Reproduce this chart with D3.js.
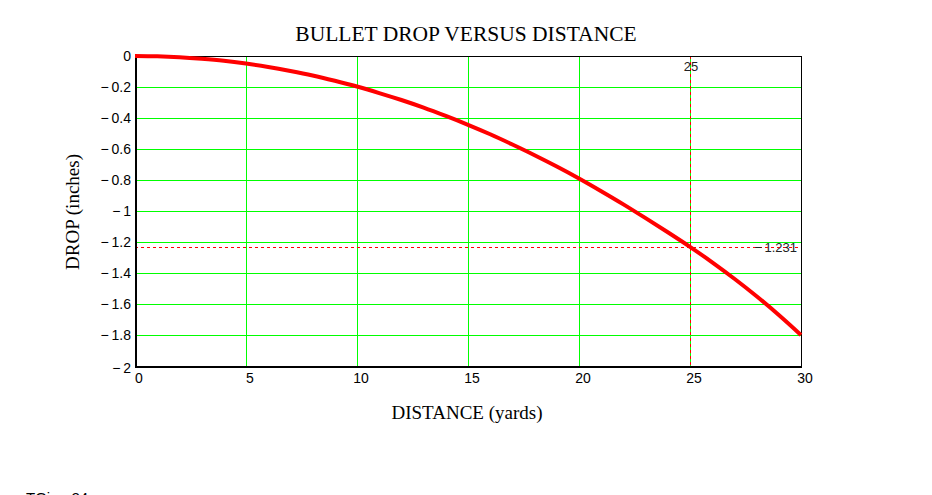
<!DOCTYPE html>
<html>
<head>
<meta charset="utf-8">
<script src="https://cdn.jsdelivr.net/npm/d3@7"></script>
<style>
  body { margin: 0; background: #fff; }
  svg { display: block; }
</style>
</head>
<body>
<svg width="932" height="495"></svg>
<script>
// distance in yards, drop in inches
const distance = [0, 1, 2, 3, 4, 5, 6, 7, 8, 9, 10, 11, 12, 13, 14, 15, 16, 17, 18, 19, 20,
    21, 22, 23, 24, 25, 26, 27, 28, 29, 30];
const drop = [0, -0.002, -0.008, -0.018, -0.031, -0.049, -0.071, -0.097, -0.126, -0.160, -0.197,
    -0.239, -0.284, -0.333, -0.387, -0.444, -0.505, -0.571, -0.640, -0.713, -0.790,
    -0.872, -0.957, -1.046, -1.137, -1.231, -1.331, -1.437, -1.550, -1.671, -1.800];
const xTicks = [0, 5, 10, 15, 20, 25, 30];
const yTicks = [0, -0.2, -0.4, -0.6, -0.8, -1, -1.2, -1.4, -1.6, -1.8, -2];
const markerX = 25;
const markerY = -1.231;

var svg = d3.select("svg");
var pL = 135, pR = 801, pT = 56, pB = 366;

var x = d3.scaleLinear().domain([0, 30]).range([pL, pR]);
var y = d3.scaleLinear().domain([0, -2]).range([pT, pB]);

var fmt = d => (d < 0 ? "\u2212\u2009" : "") + Math.abs(d);

// grid
var grid = svg.append("g").attr("stroke", "#00ff00").attr("stroke-width", 1);
grid.selectAll(".gx").data(xTicks.slice(1, -1)).enter().append("line")
    .attr("x1", d => Math.round(x(d)) + 0.5).attr("x2", d => Math.round(x(d)) + 0.5)
    .attr("y1", pT).attr("y2", pB);
grid.selectAll(".gy").data(yTicks.slice(1, -1)).enter().append("line")
    .attr("y1", d => Math.round(y(d)) + 0.5).attr("y2", d => Math.round(y(d)) + 0.5)
    .attr("x1", pL).attr("x2", pR);

// markers
svg.append("line")
    .attr("x1", Math.round(x(markerX)) + 0.5).attr("x2", Math.round(x(markerX)) + 0.5)
    .attr("y1", pT).attr("y2", pB)
    .attr("stroke", "#ff0000").attr("stroke-dasharray", "3,3");
svg.append("line")
    .attr("x1", pL).attr("x2", pR)
    .attr("y1", Math.round(y(markerY)) + 0.5).attr("y2", Math.round(y(markerY)) + 0.5)
    .attr("stroke", "#ff0000").attr("stroke-dasharray", "3,3");

// frame
svg.append("rect")
    .attr("x", pL + 0.5).attr("y", pT + 0.5)
    .attr("width", pR - pL).attr("height", pB - pT)
    .attr("fill", "none").attr("stroke", "#000");
svg.append("path")
    .attr("d", `M${pL + 1},${pT}V${pB + 1}H${pR + 1}`)
    .attr("fill", "none").attr("stroke", "#000").attr("stroke-width", 2);

// curve
var line = d3.line().x((d, i) => x(distance[i])).y(d => y(d)).curve(d3.curveMonotoneX);
svg.append("path")
    .datum(drop)
    .attr("d", line)
    .attr("fill", "none")
    .attr("stroke", "#ff0000")
    .attr("stroke-width", 4);

// tick labels
var tickFont = "'Liberation Sans', Arial, sans-serif";
svg.append("g").selectAll("text").data(xTicks).enter().append("text")
    .attr("x", d => x(d) + 4).attr("y", 383)
    .attr("text-anchor", "middle")
    .attr("font-family", tickFont).attr("font-size", 14)
    .text(d => d);
svg.append("g").selectAll("text").data(yTicks).enter().append("text")
    .attr("x", 131)
    .attr("y", d => y(d) + (d === -2 ? 7 : 5))
    .attr("text-anchor", "end")
    .attr("font-family", tickFont).attr("font-size", 14)
    .text(d => fmt(d));

// marker labels
svg.append("text")
    .attr("x", x(markerX) + 1).attr("y", 71)
    .attr("text-anchor", "middle")
    .attr("font-family", tickFont).attr("font-size", 13).attr("fill", "#222")
    .text(markerX);
svg.append("text")
    .attr("x", 797).attr("y", 252)
    .attr("text-anchor", "end")
    .attr("font-family", tickFont).attr("font-size", 13).attr("fill", "#222")
    .text(fmt(markerY));

// titles
var serif = "'Liberation Serif', 'Times New Roman', serif";
svg.append("text")
    .attr("x", 466).attr("y", 41)
    .attr("text-anchor", "middle")
    .attr("font-family", serif).attr("font-size", 21.5)
    .text("BULLET DROP VERSUS DISTANCE");
svg.append("text")
    .attr("x", 467).attr("y", 419)
    .attr("text-anchor", "middle")
    .attr("font-family", serif).attr("font-size", 19)
    .text("DISTANCE (yards)");
svg.append("text")
    .attr("transform", "translate(79,212) rotate(-90)")
    .attr("text-anchor", "middle")
    .attr("font-family", serif).attr("font-size", 19)
    .text("DROP (inches)");

// cut-off line at the bottom of the page
svg.append("text")
    .attr("x", 26).attr("y", 503)
    .attr("font-family", tickFont).attr("font-size", 15)
    .text("TGi := 24");
</script>
</body>
</html>
